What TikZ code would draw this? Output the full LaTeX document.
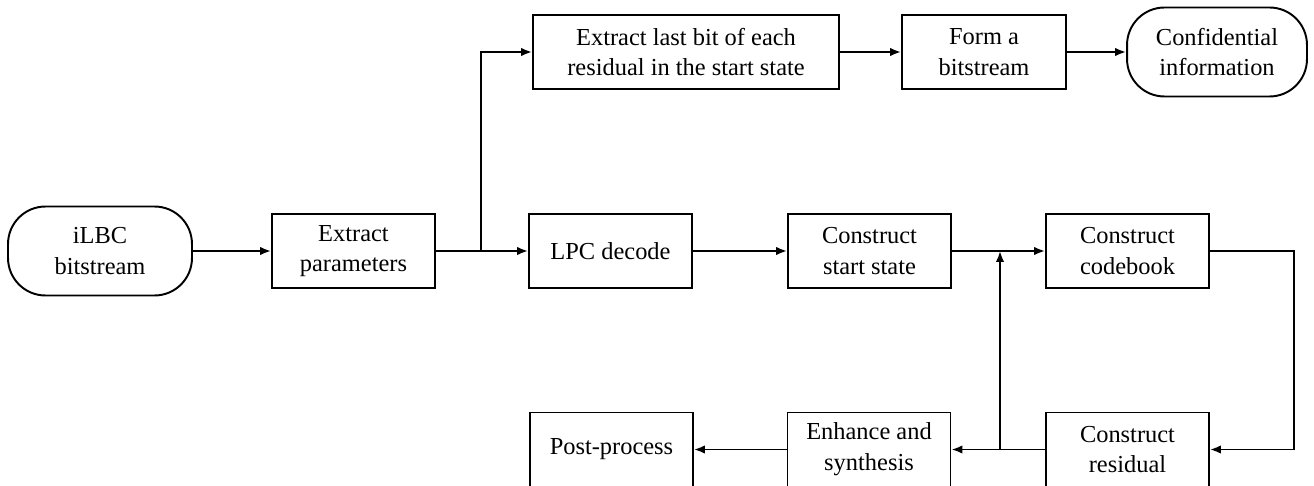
\documentclass[tikz,border=0pt]{standalone}
\usepackage{fontspec}
\setmainfont{Liberation Serif}
\usetikzlibrary{arrows.meta}

\tikzset{
    blk/.style={draw, line width=1.1pt, minimum width=3.26cm, minimum height=1.48cm,
        align=center, inner sep=2pt, font=\fontsize{13.9}{17.5}\selectfont},
    term/.style={blk, rounded corners=0.75cm, minimum width=3.68cm, minimum height=1.78cm},
    arr/.style={line width=1.1pt, -{Latex[length=2.2mm, width=1.7mm]}},
    ln/.style={line width=1.1pt}
}

\begin{document}
\begin{tikzpicture}[x=0.02cm, y=-0.02cm]
        \useasboundingbox (0, 0) rectangle (1314, 486);

        % middle row
        \node[term] (ilbc) at (100, 251) {iLBC\\bitstream};
        \node[blk] (extpar) at (353.5, 251) {Extract\\parameters};
        \node[blk] (lpc) at (610.5, 251) {LPC decode};
        \node[blk] (start) at (869.5, 251) {Construct\\start state};
        \node[blk] (codebook) at (1127.5, 251) {Construct\\codebook};

        % top row
        \node[blk, minimum width=6.12cm] (extbit) at (686, 52) {Extract last bit of each\\residual in the start state};
        \node[blk, minimum width=3.28cm] (form) at (984, 52) {Form a\\bitstream};
        \node[term, minimum width=3.6cm] (conf) at (1217, 52) {Confidential\\information};

        % bottom row
        \node[blk] (post) at (611.5, 449.5) {Post-process};
        \node[blk] (enh) at (869, 449.5) {Enhance and\\synthesis};
        \node[blk] (resid) at (1127.5, 449.5) {Construct\\residual};

        \coordinate (br) at (481, 251);
        \coordinate (jn) at (1000, 251);
        \coordinate (jb) at (1000, 449.5);

        \draw[arr] (ilbc) -- (extpar);
        \draw[ln] (extpar) -- (br);
        \draw[arr] (br) -- (lpc);
        \draw[arr] (br) |- (extbit);
        \draw[arr] (extbit) -- (form);
        \draw[arr] (form) -- (conf);

        \draw[arr] (lpc) -- (start);
        \draw[arr] (start) -- (codebook);
        \draw[arr] (codebook.east) -- ++(84, 0) |- (resid.east);
        \draw[arr] (resid) -- (enh);
        \draw[arr] (jb) -- (jn);
        \draw[arr] (enh) -- (post);
    \end{tikzpicture}
\end{document}
